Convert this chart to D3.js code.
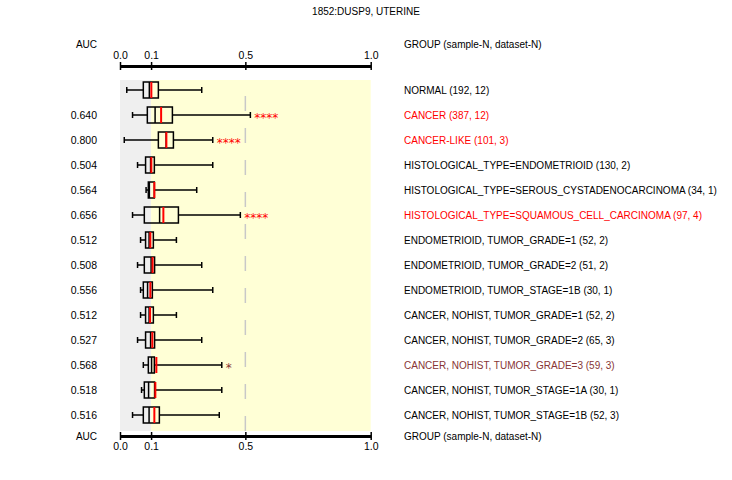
<!DOCTYPE html>
<html>
<head>
<meta charset="utf-8">
<script src="https://cdn.jsdelivr.net/npm/d3@7"></script>
<style>
  body { margin: 0; background: #fff; }
  text { font-family: "Liberation Sans", Arial, sans-serif; font-size: 10px; fill: #000; }
</style>
</head>
<body>
<div id="chart"></div>
<script>
var TITLE = "1852:DUSP9, UTERINE";

var groups = [
  "NORMAL (192, 12)",
  "CANCER (387, 12)",
  "CANCER-LIKE (101, 3)",
  "HISTOLOGICAL_TYPE=ENDOMETRIOID (130, 2)",
  "HISTOLOGICAL_TYPE=SEROUS_CYSTADENOCARCINOMA (34, 1)",
  "HISTOLOGICAL_TYPE=SQUAMOUS_CELL_CARCINOMA (97, 4)",
  "ENDOMETRIOID, TUMOR_GRADE=1 (52, 2)",
  "ENDOMETRIOID, TUMOR_GRADE=2 (51, 2)",
  "ENDOMETRIOID, TUMOR_STAGE=1B (30, 1)",
  "CANCER, NOHIST, TUMOR_GRADE=1 (52, 2)",
  "CANCER, NOHIST, TUMOR_GRADE=2 (65, 3)",
  "CANCER, NOHIST, TUMOR_GRADE=3 (59, 3)",
  "CANCER, NOHIST, TUMOR_STAGE=1A (30, 1)",
  "CANCER, NOHIST, TUMOR_STAGE=1B (52, 3)"
];

var aucValues = ["", "0.640", "0.800", "0.504", "0.564", "0.656", "0.512",
                 "0.508", "0.556", "0.512", "0.527", "0.568", "0.518", "0.516"];

var whiskerLow = [0.027, 0.050, 0.017, 0.070, 0.104, 0.050, 0.082, 0.070, 0.082, 0.082, 0.070, 0.093, 0.086, 0.050];
var q1         = [0.093, 0.109, 0.153, 0.102, 0.113, 0.097, 0.102, 0.097, 0.093, 0.102, 0.102, 0.113, 0.097, 0.093];
var medians    = [0.117, 0.140, 0.184, 0.122, 0.117, 0.158, 0.116, 0.124, 0.110, 0.116, 0.122, 0.126, 0.114, 0.116];
var means      = [0.125, 0.164, 0.185, 0.125, 0.137, 0.173, 0.121, 0.130, 0.121, 0.120, 0.129, 0.145, 0.141, 0.137];
var q3         = [0.153, 0.209, 0.213, 0.137, 0.137, 0.233, 0.133, 0.138, 0.129, 0.133, 0.138, 0.137, 0.138, 0.157];
var whiskerHigh= [0.326, 0.520, 0.370, 0.370, 0.306, 0.480, 0.225, 0.326, 0.370, 0.225, 0.326, 0.406, 0.406, 0.396];

var stars = ["", "****", "****", "", "", "****", "", "", "", "", "", "*", "", ""];

var tickValues = [0, 0.124, 0.5, 1];
var tickLabels = ["0.0", "0.1", "0.5", "1.0"];
var lowZoneEnd = 0.124;
var refLine = 0.5;

const WIDTH = 732;
const HEIGHT = 480;
const BOX_H = 16;

var starColor = function(s){
  if (s === "****") return "#ff0000";
  if (s === "*") return "#883535";
  return "#000";
};

var x = d3.scaleLinear().domain([0, 1]).range([120, 370.7]);
var y = d3.scalePoint().domain(d3.range(groups.length)).range([90, 415]);

var svg = d3.select('#chart').append('svg')
  .attr('width', WIDTH)
  .attr('height', HEIGHT);

svg.append('text')
  .attr('x', 366).attr('y', 15)
  .attr('text-anchor', 'middle')
  .text(TITLE);

// background zones
svg.append('rect')
  .attr('x', x(0)).attr('y', 80)
  .attr('width', x(lowZoneEnd) - x(0)).attr('height', 351)
  .attr('fill', '#efefef');
svg.append('rect')
  .attr('x', x(lowZoneEnd)).attr('y', 80)
  .attr('width', x(1) - x(lowZoneEnd)).attr('height', 351)
  .attr('fill', '#ffffd6');

svg.append('line')
  .attr('x1', x(refLine)).attr('x2', x(refLine))
  .attr('y1', 96).attr('y2', 431)
  .attr('stroke', '#c8c8c8')
  .attr('stroke-width', 1.5)
  .attr('stroke-dasharray', '15,17');

var drawAxis = function(axis, ty, headerY){
  var g = svg.append('g')
    .attr('transform', 'translate(0,' + ty + ')')
    .call(axis.tickValues(tickValues)
      .tickFormat(function(d, i){ return tickLabels[i]; })
      .tickSizeInner(4).tickSizeOuter(0).tickPadding(3));
  g.select('.domain').attr('stroke-width', 3);
  g.selectAll('.tick line').attr('y1', -4).attr('y2', 4).attr('stroke-width', 1.5);
  g.selectAll('.tick text')
    .style('font-family', '"Liberation Sans", Arial, sans-serif')
    .style('font-size', '10.5px');
  svg.append('text').attr('x', 97).attr('y', headerY).attr('dy', '0.35em')
    .attr('text-anchor', 'end').text('AUC');
  svg.append('text').attr('x', 404).attr('y', headerY).attr('dy', '0.35em')
    .text('GROUP (sample-N, dataset-N)');
};

drawAxis(d3.axisTop(x), 66, 44);
drawAxis(d3.axisBottom(x), 436, 436);

var rows = svg.selectAll('g.row')
  .data(groups)
  .enter().append('g')
  .classed('row', true)
  .attr('transform', function(d, i){ return 'translate(0,' + y(i) + ')'; });

rows.append('line')
  .attr('x1', function(d, i){ return x(whiskerLow[i]); })
  .attr('x2', function(d, i){ return x(q1[i]); })
  .attr('stroke', '#000').attr('stroke-width', 1.5);
rows.append('line')
  .attr('x1', function(d, i){ return x(q3[i]); })
  .attr('x2', function(d, i){ return x(whiskerHigh[i]); })
  .attr('stroke', '#000').attr('stroke-width', 1.5);
rows.append('line')
  .attr('x1', function(d, i){ return x(whiskerLow[i]); })
  .attr('x2', function(d, i){ return x(whiskerLow[i]); })
  .attr('y1', -3).attr('y2', 3)
  .attr('stroke', '#000').attr('stroke-width', 1.5);
rows.append('line')
  .attr('x1', function(d, i){ return x(whiskerHigh[i]); })
  .attr('x2', function(d, i){ return x(whiskerHigh[i]); })
  .attr('y1', -3).attr('y2', 3)
  .attr('stroke', '#000').attr('stroke-width', 1.5);
rows.append('rect')
  .attr('x', function(d, i){ return x(q1[i]); })
  .attr('y', -BOX_H / 2)
  .attr('width', function(d, i){ return x(q3[i]) - x(q1[i]); })
  .attr('height', BOX_H)
  .attr('fill', 'none')
  .attr('stroke', '#000').attr('stroke-width', 1.5);
rows.append('line')
  .attr('x1', function(d, i){ return x(medians[i]); })
  .attr('x2', function(d, i){ return x(medians[i]); })
  .attr('y1', -BOX_H / 2).attr('y2', BOX_H / 2)
  .attr('stroke', '#000').attr('stroke-width', 1.5);
rows.append('line')
  .attr('x1', function(d, i){ return x(means[i]); })
  .attr('x2', function(d, i){ return x(means[i]); })
  .attr('y1', -BOX_H / 2).attr('y2', BOX_H / 2)
  .attr('stroke', '#ff0000').attr('stroke-width', 2);

rows.append('text')
  .attr('x', function(d, i){ return x(whiskerHigh[i]) + 4; })
  .attr('y', 6.5)
  .style('font-family', '"DejaVu Sans", sans-serif')
  .style('font-size', '12px')
  .style('fill', function(d, i){ return starColor(stars[i]); })
  .text(function(d, i){ return stars[i]; });

rows.append('text')
  .attr('x', 97).attr('dy', '0.35em')
  .attr('text-anchor', 'end')
  .style('font-size', '10.5px')
  .text(function(d, i){ return aucValues[i]; });

rows.append('text')
  .attr('x', 404).attr('dy', '0.35em')
  .style('fill', function(d, i){ return starColor(stars[i]); })
  .text(function(d){ return d; });
</script>
</body>
</html>
